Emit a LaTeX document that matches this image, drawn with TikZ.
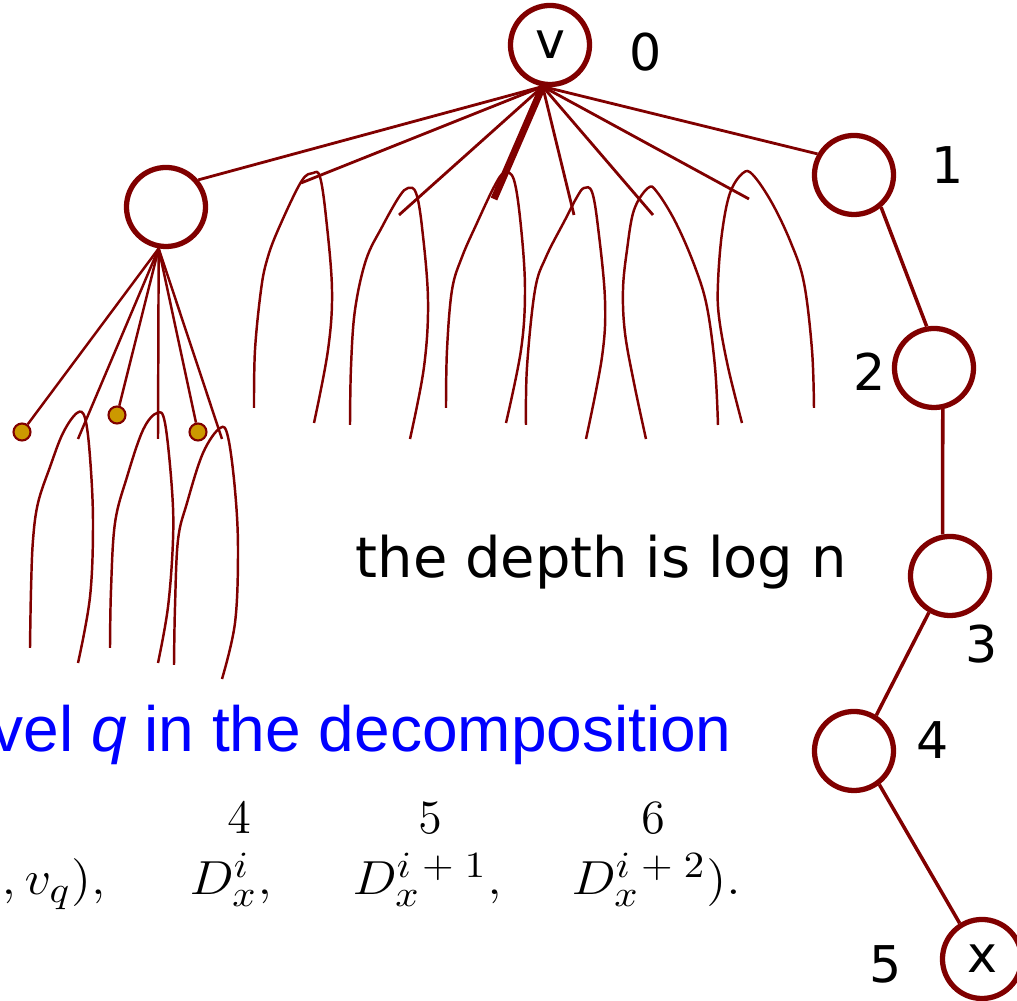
\RequirePackage{fix-cm}
\documentclass[tikz,border=0pt]{standalone}
\usepackage[no-math]{fontspec}
\usepackage{graphicx}
\usepackage{tikz}
\newfontfamily\dejavu{DejaVu Sans}
\newfontfamily\arialfont{Liberation Sans}
\definecolor{tree}{HTML}{800000}
\definecolor{gold}{HTML}{CC9900}
\DeclareMathSizes{13.6}{13.6}{10.5}{8}
\newcommand{\wide}[1]{\scalebox{1.1}[1]{#1}}

\begin{document}
\begin{tikzpicture}[
  x=0.01cm, y=-0.01cm,
  vert/.style={circle, draw=tree, line width=1.5pt, minimum size=0.79cm, inner sep=0pt, font=\dejavu\fontsize{14.4}{17}\selectfont},
  leaf/.style={circle, draw=tree, fill=gold, line width=0.6pt, minimum size=0.17cm, inner sep=0pt},
  lab/.style={inner sep=0pt, font=\dejavu\fontsize{14.4}{17}\selectfont},
  link/.style={draw=tree, line width=0.8pt},
  subtree/.style={draw=tree, line width=0.7pt},
  formula/.style={anchor=base west, inner sep=0pt, font=\fontsize{13.6}{16}\selectfont}
]
\useasboundingbox (0,0) rectangle (1017,1001);

% the path from v down to x
\node[vert] (v) at (550,45) {v};
\node[vert] (L) at (166,207) {};
\node[vert] (n1) at (854,175) {};
\node[vert] (n2) at (934,368) {};
\node[vert] (n3) at (950,576) {};
\node[vert] (n4) at (854,751) {};
\node[vert] (nx) at (982,959) {x};

\node[lab] (l0) at (646,52) {0};
\node[lab] (l1) at (948,165) {1};
\node[lab] (l2) at (870,372) {2};
\node[lab] (l3) at (982,644) {3};
\node[lab] (l4) at (933,740) {4};
\node[lab] (l5) at (886,964) {5};

\draw[link, line width=1pt] (n1.-50) -- (n2.100);
\draw[link, line width=1pt] (n2.-78) -- (n3.100);
\draw[link, line width=1pt] (n3.-120) -- (n4.58);
\draw[link, line width=1pt] (n4.-53) -- (nx.122);

% children of v
\coordinate (s1) at (301,183);
\coordinate (s2) at (399,215);
\coordinate (s3) at (494,199);
\coordinate (s4) at (574,215);
\coordinate (s5) at (653,215);
\coordinate (s6) at (749,199);
\draw[link] (v.260) -- (L.40);
\foreach \s in {s1,s2,s4,s5,s6}
  \draw[link] (v.260) -- (\s);
\draw[link, line width=2pt] (v.260) -- (s3);
\draw[link] (v.260) -- (n1.150);

% children of the left node
\node[leaf] (da) at (22,432) {};
\node[leaf] (db) at (117,415) {};
\node[leaf] (dc) at (198,432) {};
\coordinate (la) at (78,439);
\coordinate (lb) at (158,439);
\coordinate (lc) at (222,439);
\foreach \t in {da,la,db,lb,dc,lc}
  \draw[subtree] (L.260) -- (\t);

% subtrees
\draw[subtree] plot[smooth, tension=0.6] coordinates {(254,408) (255,350) (261,290) (267,260) (278,230) (301,182) (313,173) (320,177) (326,217) (332,290) (328,350) (314,423)};
\draw[subtree] plot[smooth, tension=0.6] coordinates {(350,425) (351,367) (355,310) (366,260) (382,227) (399,197) (408,188) (416,193) (422,227) (428,300) (424,367) (410,439)};
\draw[subtree] plot[smooth, tension=0.6] coordinates {(446,408) (447,350) (452,290) (462,257) (477,223) (494,187) (504,173) (514,180) (521,227) (525,290) (521,350) (506,423)};
\draw[subtree] plot[smooth, tension=0.6] coordinates {(526,425) (527,367) (535,290) (546,257) (565,220) (577,197) (584,188) (592,192) (598,227) (605,300) (602,357) (586,439)};
\draw[subtree] plot[smooth, tension=0.6] coordinates {(646,439) (634,383) (625,333) (623,290) (627,250) (634,210) (648,188) (657,192) (676,223) (695,267) (707,307) (715,367) (718,425)};
\draw[subtree] plot[smooth, tension=0.6] coordinates {(742,423) (728,367) (719,317) (718,283) (722,233) (730,193) (743,173) (753,175) (772,203) (791,243) (804,283) (812,350) (814,408)};
\draw[subtree] plot[smooth, tension=0.6] coordinates {(30,648) (31,590) (33,540) (38,503) (50,467) (63,433) (77,413) (85,418) (90,457) (93,523) (90,597) (78,663)};
\draw[subtree] plot[smooth, tension=0.6] coordinates {(110,648) (111,590) (115,523) (127,477) (143,430) (157,413) (165,423) (172,490) (173,540) (168,607) (158,663)};
\draw[subtree] plot[smooth, tension=0.6] coordinates {(174,665) (175,607) (178,540) (187,503) (203,453) (220,428) (228,437) (235,490) (238,550) (235,623) (222,679)};

% texts
\node[anchor=base west, inner sep=0pt, font=\dejavu\fontsize{15.9}{19}\selectfont] (depth) at (355,578) {the depth is log n};
\node[anchor=base west, inner sep=0pt, text=blue, font=\arialfont\fontsize{18.2}{22}\selectfont] (level) at (-9,752) {vel \textit{q} in the decomposition};

\node[formula] (f1) at (1,895) {\wide{$,v_q),$}};
\node[formula] (f2) at (189,895) {\wide{$D_x^i,$}};
\node[formula] (f3) at (352,895) {\wide{$D_x^{i\;+\;1},$}};
\node[formula] (f4) at (571,895) {\wide{$D_x^{i\;+\;2}).$}};
\node[formula, anchor=base] (c4) at (239,834) {$4$};
\node[formula, anchor=base] (c5) at (430,834) {$5$};
\node[formula, anchor=base] (c6) at (653,834) {$6$};
\end{tikzpicture}
\end{document}
